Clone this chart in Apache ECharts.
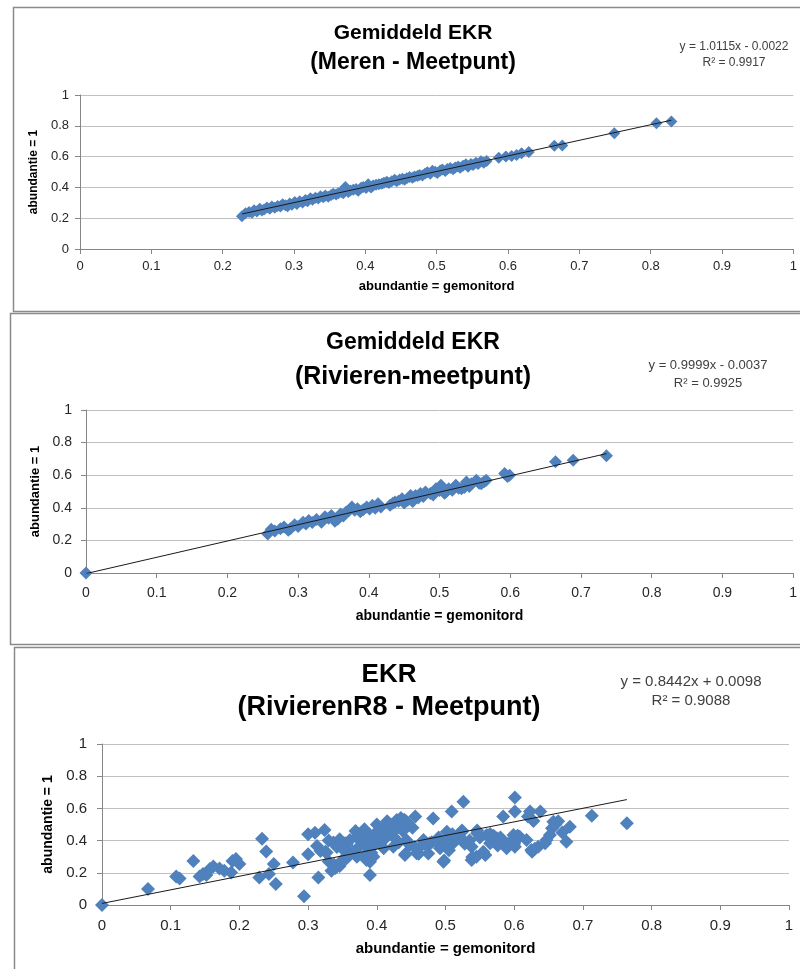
<!DOCTYPE html>
<html><head><meta charset="utf-8">
<script src="https://cdn.jsdelivr.net/npm/echarts@6/dist/echarts.min.js"></script>
<style>html,body{margin:0;padding:0;background:#fff}#c{width:800px;height:969px}</style>
</head><body><div id="c"></div>
<script>
// ---------- DATA ----------
const xName = 'abundantie = gemonitord';
const yName = 'abundantie = 1';
const titleLines = [
  ['Gemiddeld EKR', '(Meren - Meetpunt)'],
  ['Gemiddeld EKR', '(Rivieren-meetpunt)'],
  ['EKR', '(RivierenR8 - Meetpunt)']
];
const equations = ['y = 1.0115x - 0.0022', 'y = 0.9999x - 0.0037', 'y = 0.8442x + 0.0098'];
const rSquared = ['R\u00b2 = 0.9917', 'R\u00b2 = 0.9925', 'R\u00b2 = 0.9088'];
const slopes = [1.0115, 0.9999, 0.8442];
const intercepts = [-0.0022, -0.0037, 0.0098];

const merenPoints = [
[0.227,0.212],[0.232,0.232],[0.237,0.24],[0.241,0.236],[0.244,0.252],[0.248,0.244],[0.252,0.262],[0.255,0.25],
[0.258,0.256],[0.262,0.27],[0.266,0.262],[0.269,0.276],[0.273,0.268],[0.277,0.28],[0.281,0.276],[0.284,0.29],
[0.288,0.284],[0.291,0.278],[0.294,0.296],[0.297,0.288],[0.301,0.306],[0.304,0.292],[0.308,0.31],[0.312,0.302],
[0.316,0.318],[0.319,0.31],[0.323,0.33],[0.326,0.32],[0.33,0.332],[0.334,0.328],[0.337,0.342],[0.341,0.336],
[0.344,0.348],[0.348,0.34],[0.352,0.35],[0.355,0.358],[0.359,0.354],[0.362,0.362],[0.366,0.37],[0.369,0.362],
[0.372,0.402],[0.376,0.37],[0.379,0.38],[0.383,0.384],[0.387,0.39],[0.39,0.378],[0.394,0.398],[0.397,0.402],
[0.401,0.396],[0.404,0.42],[0.408,0.4],[0.411,0.412],[0.415,0.418],[0.419,0.42],[0.423,0.424],[0.426,0.43],
[0.43,0.436],[0.433,0.428],[0.437,0.44],[0.441,0.45],[0.444,0.44],[0.448,0.452],[0.452,0.456],[0.455,0.45],
[0.458,0.46],[0.462,0.468],[0.466,0.462],[0.469,0.47],[0.473,0.474],[0.476,0.48],[0.48,0.478],[0.484,0.49],
[0.487,0.498],[0.491,0.488],[0.494,0.508],[0.498,0.502],[0.501,0.494],[0.505,0.51],[0.508,0.516],[0.512,0.506],
[0.515,0.52],[0.519,0.526],[0.523,0.518],[0.526,0.53],[0.53,0.536],[0.533,0.528],[0.537,0.54],[0.541,0.55],
[0.544,0.534],[0.548,0.552],[0.551,0.546],[0.555,0.56],[0.558,0.552],[0.562,0.57],[0.566,0.56],[0.57,0.572],
[0.587,0.592],[0.597,0.6],[0.605,0.604],[0.612,0.61],[0.619,0.622],[0.629,0.63],[0.665,0.671],[0.676,0.672],
[0.749,0.752],[0.808,0.816],[0.829,0.828]
];

const rivierenPoints = [
[0,0],[0.257,0.24],[0.262,0.268],[0.267,0.258],[0.275,0.271],[0.28,0.282],[0.286,0.262],[0.289,0.272],
[0.295,0.296],[0.3,0.285],[0.307,0.312],[0.311,0.3],[0.315,0.322],[0.32,0.31],[0.326,0.328],[0.333,0.312],
[0.338,0.345],[0.343,0.336],[0.347,0.353],[0.352,0.318],[0.356,0.33],[0.36,0.362],[0.364,0.35],[0.368,0.374],
[0.372,0.384],[0.376,0.405],[0.38,0.385],[0.384,0.394],[0.388,0.376],[0.392,0.388],[0.397,0.405],[0.401,0.392],
[0.405,0.415],[0.409,0.398],[0.413,0.425],[0.417,0.405],[0.43,0.415],[0.434,0.428],[0.437,0.435],[0.442,0.44],
[0.447,0.456],[0.45,0.43],[0.455,0.446],[0.459,0.476],[0.462,0.438],[0.466,0.476],[0.47,0.46],[0.473,0.487],
[0.477,0.47],[0.48,0.497],[0.487,0.487],[0.491,0.478],[0.495,0.517],[0.5,0.506],[0.502,0.538],[0.507,0.49],
[0.509,0.497],[0.513,0.517],[0.518,0.508],[0.523,0.538],[0.527,0.52],[0.531,0.517],[0.535,0.525],[0.538,0.558],
[0.542,0.53],[0.545,0.548],[0.552,0.569],[0.556,0.55],[0.559,0.548],[0.563,0.56],[0.566,0.569],[0.592,0.61],
[0.596,0.592],[0.599,0.6],[0.664,0.682],[0.689,0.692],[0.736,0.72]
];

const r8Points = [
[0,0],[0.067,0.099],[0.108,0.177],[0.113,0.165],[0.133,0.274],[0.142,0.177],[0.147,0.192],[0.152,0.186],
[0.157,0.223],[0.162,0.239],[0.171,0.227],[0.178,0.212],[0.188,0.202],[0.19,0.274],[0.195,0.285],[0.2,0.254],
[0.229,0.171],[0.233,0.412],[0.239,0.332],[0.243,0.192],[0.25,0.254],[0.253,0.13],[0.278,0.264],[0.294,0.054],
[0.3,0.439],[0.31,0.449],[0.324,0.466],[0.3,0.315],[0.313,0.367],[0.318,0.336],[0.327,0.326],[0.337,0.388],
[0.346,0.408],[0.356,0.377],[0.315,0.171],[0.334,0.212],[0.346,0.243],[0.353,0.285],[0.34,0.23],
[0.526,0.642],[0.509,0.58],[0.482,0.538],[0.601,0.667],[0.601,0.58],[0.584,0.549],[0.623,0.58],[0.628,0.522],
[0.39,0.186],[0.456,0.549],[0.443,0.518],[0.436,0.497],[0.429,0.528],[0.419,0.487],[0.41,0.476],[0.4,0.455],
[0.39,0.435],[0.38,0.445],[0.371,0.424],[0.361,0.404],[0.354,0.383],[0.424,0.424],[0.41,0.404],[0.395,0.414],
[0.443,0.404],[0.448,0.373],[0.468,0.404],[0.477,0.383],[0.492,0.352],[0.502,0.455],[0.511,0.383],[0.524,0.455],
[0.528,0.393],[0.538,0.362],[0.546,0.445],[0.56,0.435],[0.565,0.383],[0.575,0.414],[0.584,0.393],[0.589,0.352],
[0.599,0.435],[0.601,0.362],[0.618,0.404],[0.626,0.331],[0.635,0.362],[0.441,0.311],[0.458,0.321],[0.497,0.269],
[0.538,0.28],[0.558,0.311],[0.356,0.29],[0.371,0.3],[0.383,0.311],[0.39,0.269],[0.41,0.352],[0.424,0.362],
[0.764,0.507],[0.713,0.555],[0.681,0.486],[0.676,0.393],[0.657,0.517],[0.655,0.476],[0.652,0.435],[0.647,0.404],
[0.645,0.383],[0.625,0.342],[0.638,0.58],[0.608,0.424],[0.591,0.38],[0.576,0.37],[0.546,0.462],[0.565,0.441],
[0.528,0.38],[0.506,0.41],[0.502,0.359],[0.487,0.4],[0.461,0.318],[0.442,0.318],[0.524,0.462],[0.539,0.298],
[0.498,0.277],[0.365,0.33],[0.372,0.352],[0.378,0.39],[0.384,0.37],[0.388,0.4],[0.392,0.325],[0.398,0.38],
[0.404,0.43],[0.414,0.44],[0.42,0.5],[0.428,0.47],[0.432,0.39],[0.438,0.46],[0.446,0.5],[0.452,0.48],
[0.36,0.31],[0.342,0.36],[0.33,0.4],[0.325,0.33],[0.35,0.35],[0.369,0.46],[0.375,0.44],[0.382,0.47],
[0.4,0.5],[0.415,0.52],[0.435,0.54],[0.44,0.53],[0.33,0.27],[0.338,0.25],[0.35,0.28],[0.385,0.28],
[0.395,0.3],[0.47,0.38],[0.48,0.39],[0.49,0.42],[0.5,0.39],[0.515,0.42],[0.52,0.44],[0.535,0.4],
[0.55,0.42],[0.57,0.43],[0.58,0.42],[0.595,0.39],[0.605,0.43],[0.62,0.55],[0.66,0.5],[0.664,0.52],
[0.67,0.45],[0.63,0.35],[0.6,0.38],[0.555,0.33],[0.545,0.3],[0.505,0.34],[0.51,0.44],[0.49,0.38],
[0.475,0.32],[0.455,0.36],[0.465,0.37]
];

const datasets = [merenPoints, rivierenPoints, r8Points];

// ---------- LAYOUT / STYLE ----------
const FONT = "'Liberation Sans', Arial, sans-serif";
const panels = [
  {grid:{left:80, top:95, width:715, height:154}, box:[13,7,800,304], titleX:413, titleY:[33,63], titleSize:[21,23],
   eqX:734, eqY:[47,63], eqSize:12, tick:13, yLblMargin:11, xLblMargin:11, xGap:31, yGap:36, sym:12, yTitleSize:12, xTitleSize:13},
  {grid:{left:86, top:410, width:710, height:163}, box:[10,313,800,331], titleX:413, titleY:[343,377], titleSize:[23,25],
   eqX:708, eqY:[365,383], eqSize:13, tick:14, yLblMargin:14, xLblMargin:13, xGap:36, yGap:40, sym:13, yTitleSize:13, xTitleSize:14},
  {grid:{left:102, top:744, width:687, height:161}, box:[14,647,800,330], titleX:389, titleY:[675,708], titleSize:[26,27],
   eqX:691, eqY:[682,701], eqSize:15, tick:15, yLblMargin:15, xLblMargin:13, xGap:36, yGap:46, sym:14, yTitleSize:14, xTitleSize:15}
];

const chart = echarts.init(document.getElementById('c'), null, {renderer:'canvas'});

const grids = [], xAxes = [], yAxes = [], series = [], graphics = [];
panels.forEach((p, i) => {
  grids.push(Object.assign({containLabel:false}, p.grid));
  xAxes.push({
    type:'value', gridIndex:i, min:0, max:1, interval:0.1,
    name:xName, nameLocation:'middle', nameGap:p.xGap,
    nameTextStyle:{fontFamily:FONT, fontWeight:'bold', fontSize:p.xTitleSize, color:'#000'},
    axisLine:{show:true, onZero:false, lineStyle:{color:'#868686', width:1}},
    axisTick:{show:true, length:5, lineStyle:{color:'#868686'}},
    axisLabel:{show:true, showMinLabel:true, showMaxLabel:true, margin:p.xLblMargin, fontFamily:FONT, fontSize:p.tick, color:'#262626',
      formatter:v => String(Math.round(v*10)/10)},
    splitLine:{show:false}
  });
  yAxes.push({
    type:'value', gridIndex:i, min:0, max:1, interval:0.2,
    name:yName, nameLocation:'middle', nameGap:p.yGap, nameRotate:90,
    nameTextStyle:{fontFamily:FONT, fontWeight:'bold', fontSize:p.yTitleSize, color:'#000'},
    axisLine:{show:true, onZero:false, lineStyle:{color:'#868686', width:1}},
    axisTick:{show:true, length:5, lineStyle:{color:'#868686'}},
    axisLabel:{show:true, showMinLabel:true, showMaxLabel:true, margin:p.yLblMargin, fontFamily:FONT, fontSize:p.tick, color:'#262626',
      formatter:v => String(Math.round(v*10)/10)},
    splitLine:{show:true, lineStyle:{color:'#c0c0c0', width:1}}
  });
  const pts = datasets[i];
  series.push({
    type:'scatter', xAxisIndex:i, yAxisIndex:i, data:pts,
    symbol:'diamond', symbolSize:p.sym,
    itemStyle:{color:'#4f81bd', opacity:1}, z:2, silent:true
  });
  const xs = pts.map(d => d[0]);
  const x0 = Math.min(...xs), x1 = Math.max(...xs);
  series.push({
    type:'line', xAxisIndex:i, yAxisIndex:i,
    data:[[x0, slopes[i]*x0 + intercepts[i]], [x1, slopes[i]*x1 + intercepts[i]]],
    symbol:'none', lineStyle:{color:'#1a1a1a', width:1}, z:3, silent:true, animation:false
  });
  graphics.push({type:'rect', shape:{x:p.box[0]+0.5, y:p.box[1]+0.5, width:p.box[2], height:p.box[3]},
    style:{fill:null, stroke:'#8a8a8a', lineWidth:1.5}, z:-10});
  titleLines[i].forEach((t, k) => {
    graphics.push({type:'text', x:p.titleX, y:p.titleY[k],
      style:{text:t, fill:'#000', font:"bold " + p.titleSize[k] + "px " + FONT, textAlign:'center', textVerticalAlign:'middle'}});
  });
  graphics.push({type:'text', x:p.eqX, y:p.eqY[0],
    style:{text:equations[i], fill:'#404040', font:p.eqSize + "px " + FONT, textAlign:'center', textVerticalAlign:'middle'}});
  graphics.push({type:'text', x:p.eqX, y:p.eqY[1],
    style:{text:rSquared[i], fill:'#404040', font:p.eqSize + "px " + FONT, textAlign:'center', textVerticalAlign:'middle'}});
});

chart.setOption({
  animation:false,
  backgroundColor:'#fff',
  grid:grids, xAxis:xAxes, yAxis:yAxes, series:series, graphic:graphics
});
</script>
</body></html>
